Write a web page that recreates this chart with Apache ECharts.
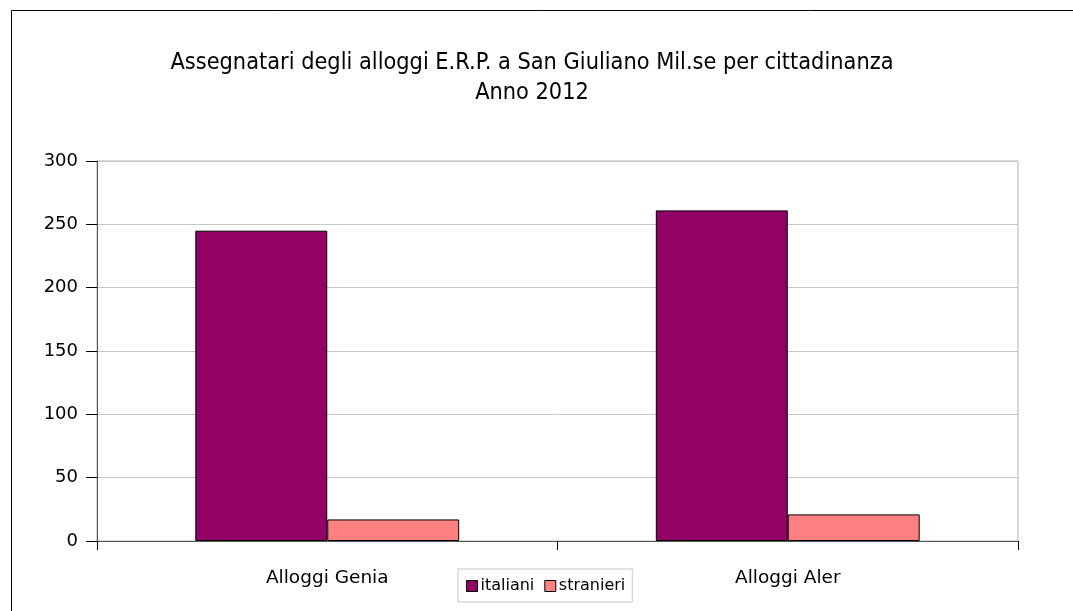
<!DOCTYPE html>
<html><head><meta charset="utf-8">
<script src="https://cdn.jsdelivr.net/npm/echarts@6/dist/echarts.min.js"></script>
<style>html,body{margin:0;padding:0;background:#fff}#c{width:1073px;height:611px}</style>
</head><body><div id="c"></div>
<script>
const categories = ['Alloggi Genia', 'Alloggi Aler'];
const italiani = [245, 261];
const stranieri = [17, 21];
const yTicks = [0, 50, 100, 150, 200, 250, 300];
const titleText = 'Assegnatari degli alloggi E.R.P. a San Giuliano Mil.se per cittadinanza\nAnno 2012';

const chart = echarts.init(document.getElementById('c'), null, {renderer: 'canvas'});
const font = 'DejaVu Sans';
chart.setOption({
  animation: false,
  backgroundColor: '#fff',
  graphic: [{
    type: 'rect', shape: {x: 11.5, y: 10.5, width: 1080, height: 620},
    style: {fill: 'none', stroke: '#000', lineWidth: 1}, silent: true, z: -1
  }, {
    type: 'rect', shape: {x: 97, y: 161, width: 921, height: 380},
    style: {fill: 'none', stroke: '#b3b3b3', lineWidth: 1}, silent: true, z: -1
  }],
  title: {
    text: titleText, left: 527, top: 43, textAlign: 'center',
    textStyle: {fontFamily: 'DejaVu Sans Condensed', fontSize: 23.3, fontWeight: 'normal', color: '#000', lineHeight: 30}
  },
  legend: {
    data: ['italiani', 'stranieri'], left: 458, top: 569,
    padding: [9, 7, 8, 8], itemGap: 10,
    borderColor: '#c8c8c8', borderWidth: 1,
    itemWidth: 11, itemHeight: 11, icon: 'rect',
    itemStyle: {borderColor: '#000', borderWidth: 1},
    textStyle: {fontFamily: font, fontSize: 16, color: '#000', padding: [0, 0, 0, -2]},
  },
  grid: {left: 97, top: 161, width: 921, height: 380, containLabel: false},
  xAxis: {
    type: 'category', data: categories,
    axisLine: {lineStyle: {color: '#555', width: 1}},
    axisTick: {show: true, length: 9, lineStyle: {color: '#000'}},
    axisLabel: {fontFamily: font, fontSize: 18.5, color: '#000', margin: 28}
  },
  yAxis: {
    type: 'value', min: yTicks[0], max: yTicks[yTicks.length - 1], interval: 50,
    axisLine: {show: true, lineStyle: {color: '#555', width: 1}},
    axisTick: {show: true, length: 11, lineStyle: {color: '#000'}},
    axisLabel: {fontFamily: font, fontSize: 18, color: '#000', margin: 19},
    splitLine: {lineStyle: {color: '#c8c8c8'}}
  },
  series: [{
    name: 'italiani', type: 'bar', data: italiani,
    barGap: '0%', barCategoryGap: '42.7%',
    itemStyle: {color: '#930066', borderColor: '#000', borderWidth: 1}
  }, {
    name: 'stranieri', type: 'bar', data: stranieri,
    itemStyle: {color: '#ff8080', borderColor: '#000', borderWidth: 1}
  }]
});
</script></body></html>
